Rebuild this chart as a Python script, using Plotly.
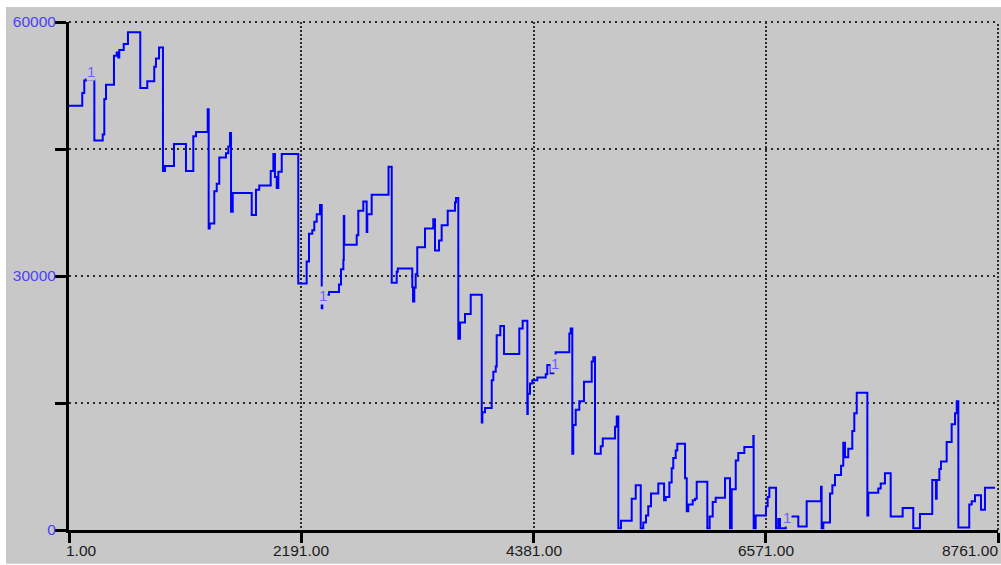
import plotly.graph_objects as go

# ---- data (hour index, value) ----
hours = [1, 126, 145, 160, 240, 319, 334, 350, 425, 451, 466, 475, 517, 557, 673, 739, 805, 821, 850,
         887, 906, 991, 1104, 1173, 1199, 1309, 1318, 1328, 1371, 1394, 1418, 1481, 1503, 1519, 1529,
         1545, 1724, 1764, 1795, 1903, 1928, 1943, 1960, 1975, 2007, 2163, 2242, 2264, 2295, 2314,
         2337, 2368, 2384, 2390, 2453, 2547, 2566, 2588, 2592, 2597, 2714, 2729, 2776, 2808, 2814,
         2855, 3014, 3044, 3091, 3101, 3238, 3245, 3257, 3270, 3285, 3358, 3436, 3452, 3490, 3515,
         3572, 3641, 3650, 3672, 3688, 3735, 3789, 3893, 3899, 3924, 3987, 4002, 4025, 4034, 4068,
         4103, 4247, 4279, 4323, 4327, 4348, 4370, 4417, 4496, 4511, 4543, 4568, 4590, 4719, 4732,
         4747, 4756, 4779, 4813, 4857, 4930, 4945, 4961, 5015, 5034, 5150, 5166, 5181, 5206, 5307,
         5345, 5392, 5416, 5442, 5463, 5489, 5558, 5612, 5628, 5662, 5684, 5699, 5722, 5737, 5810,
         5826, 5841, 5882, 5904, 5920, 6020, 6042, 6071, 6099, 6187, 6234, 6250, 6288, 6312, 6369,
         6454, 6457, 6476, 6573, 6589, 6605, 6668, 6689, 6705, 6760, 6878, 6957, 7092, 7098, 7114,
         7177, 7199, 7224, 7281, 7302, 7318, 7349, 7387, 7406, 7429, 7529, 7538, 7632, 7655, 7695,
         7749, 7862, 7962, 8025, 8141, 8176, 8183, 8208, 8223, 8277, 8324, 8356, 8372, 8387, 8490,
         8513, 8544, 8601, 8638, 8733]

values = [50100, 51600, 53100, 53200, 46000, 46700, 50900, 52600, 56000, 56400, 55800, 56700, 57400,
          58800, 52200, 53000, 54700, 55700, 57000, 42400, 43000, 45600, 42400, 46500, 47000, 49700,
          35600, 36200, 40000, 40900, 44000, 44500, 45300, 46900, 37600, 39800, 37200, 40200, 40700,
          42400, 44400, 41700, 40400, 42300, 44400, 29100, 31700, 35000, 35400, 36400, 37300, 38400,
          26200, 27800, 28100, 29000, 30800, 31900, 37100, 33700, 34800, 37700, 38800, 35200, 37300,
          39600, 42900, 29200, 30500, 30900, 28700, 27000, 28600, 30200, 33400, 35600, 36700, 33000,
          34200, 36000, 37700, 38700, 39200, 22600, 24500, 25500, 27800, 12700, 13900, 14400, 17700,
          18700, 19300, 23000, 24100, 20800, 23800, 24700, 13700, 16100, 17300, 17700, 18000, 18400,
          19500, 18500, 19500, 21000, 23200, 23800, 9000, 12400, 14200, 15200, 17500, 19900, 20400,
          9000, 9900, 10800, 12200, 13400, 200, 1100, 3700, 5300, 200, 900, 1700, 2800, 4300, 5500,
          3500, 3900, 5600, 7300, 8500, 9400, 10200, 6100, 2200, 3000, 3500, 3700, 5700, 200, 1600,
          3300, 3800, 6100, 200, 4800, 8200, 9100, 9800, 11100, 200, 1700, 2800, 3900, 5000, 200,
          1300, 200, 1600, 400, 3400, 5100, 200, 900, 4300, 5300, 6500, 7600, 10300, 8600, 9600,
          11700, 13800, 16200, 1700, 4400, 4900, 5500, 6700, 1600, 2600, 200, 1900, 5900, 3700, 5900,
          7200, 8100, 10400, 12500, 13800, 15200, 300, 3000, 3400, 4100, 2400, 5000, 5000]

x_tick_vals = [1, 2191, 4381, 6571, 8761]
x_tick_labels = ["1.00", "2191.00", "4381.00", "6571.00", "8761.00"]
y_tick_vals = [0, 15000, 30000, 45000, 60000]
y_tick_labels = ["0", "", "30000", "", "60000"]

marker_hours = [208, 2396, 4581, 6772]
marker_values = [54200, 27700, 19700, 1500]
marker_texts = ["1", "1", "1", "1"]

GRAY = "#c8c8c8"
GRID = "#2a2a2a"
FONT = "Liberation Sans"

fig = go.Figure()
fig.add_trace(go.Scatter(
    x=hours, y=values, mode="lines",
    line=dict(shape="hv", color="#0000ff", width=2),
    hoverinfo="skip", showlegend=False,
))

annotations = []
for mx, my, mt in zip(marker_hours, marker_values, marker_texts):
    annotations.append(dict(
        x=mx, y=my, xref="x", yref="y", text=mt, showarrow=False,
        font=dict(family=FONT, size=15, color="#7060ff"),
        bgcolor=GRAY, borderpad=0,
    ))

n = len(x_tick_vals)
for i, (tv, tt) in enumerate(zip(x_tick_vals, x_tick_labels)):
    if i == 0:
        anchor, shift = "left", -5
    elif i == n - 1:
        anchor, shift = "right", 2
    else:
        anchor, shift = "center", 0
    annotations.append(dict(
        x=tv, y=0, xref="x", yref="paper", text=tt, showarrow=False,
        xanchor=anchor, yanchor="top", xshift=shift, yshift=-10,
        font=dict(family=FONT, size=15.5, color="#1a1a1a"),
    ))

shapes = [
    # dotted grid lines on the top and right edges of the plot area
    dict(type="line", xref="paper", yref="paper", x0=0, x1=1, y0=1, y1=1,
         line=dict(color=GRID, width=2, dash="2px,4px"), layer="below"),
    dict(type="line", xref="paper", yref="paper", x0=1, x1=1, y0=0, y1=1,
         line=dict(color=GRID, width=2, dash="2px,2px"), layer="below"),
    # white frame strips outside the grey canvas (top, left, bottom)
    dict(type="rect", xref="paper", yref="paper", x0=-0.2, x1=1.2, y0=1.0295, y1=1.2,
         fillcolor="white", line=dict(width=0), layer="above"),
    dict(type="rect", xref="paper", yref="paper", x0=-0.2, x1=-0.0678, y0=-0.2, y1=1.2,
         fillcolor="white", line=dict(width=0), layer="above"),
    dict(type="rect", xref="paper", yref="paper", x0=-0.2, x1=1.2, y0=-0.2, y1=-0.0665,
         fillcolor="white", line=dict(width=0), layer="above"),
]

fig.update_layout(
    width=1001, height=565,
    margin=dict(l=69, r=3, t=22, b=35, pad=0),
    paper_bgcolor=GRAY, plot_bgcolor=GRAY,
    showlegend=False,
    annotations=annotations,
    shapes=shapes,
    xaxis=dict(
        range=[1, 8761], tickvals=x_tick_vals, showticklabels=False,
        ticks="outside", ticklen=10, tickwidth=3, tickcolor="black",
        showline=True, linecolor="black", linewidth=3,
        showgrid=True, gridcolor=GRID, gridwidth=2, griddash="2px,2px",
        zeroline=False, fixedrange=True,
    ),
    yaxis=dict(
        range=[0, 60000], tickvals=y_tick_vals, ticktext=y_tick_labels,
        ticks="outside", ticklen=11, tickwidth=3, tickcolor="black",
        showline=True, linecolor="black", linewidth=3,
        showgrid=True, gridcolor=GRID, gridwidth=2, griddash="2px,4px",
        zeroline=False, fixedrange=True, ticklabelstandoff=-4,
        tickfont=dict(family=FONT, size=15.5, color="#4a40ff"),
    ),
)

fig.write_html("out.html")
